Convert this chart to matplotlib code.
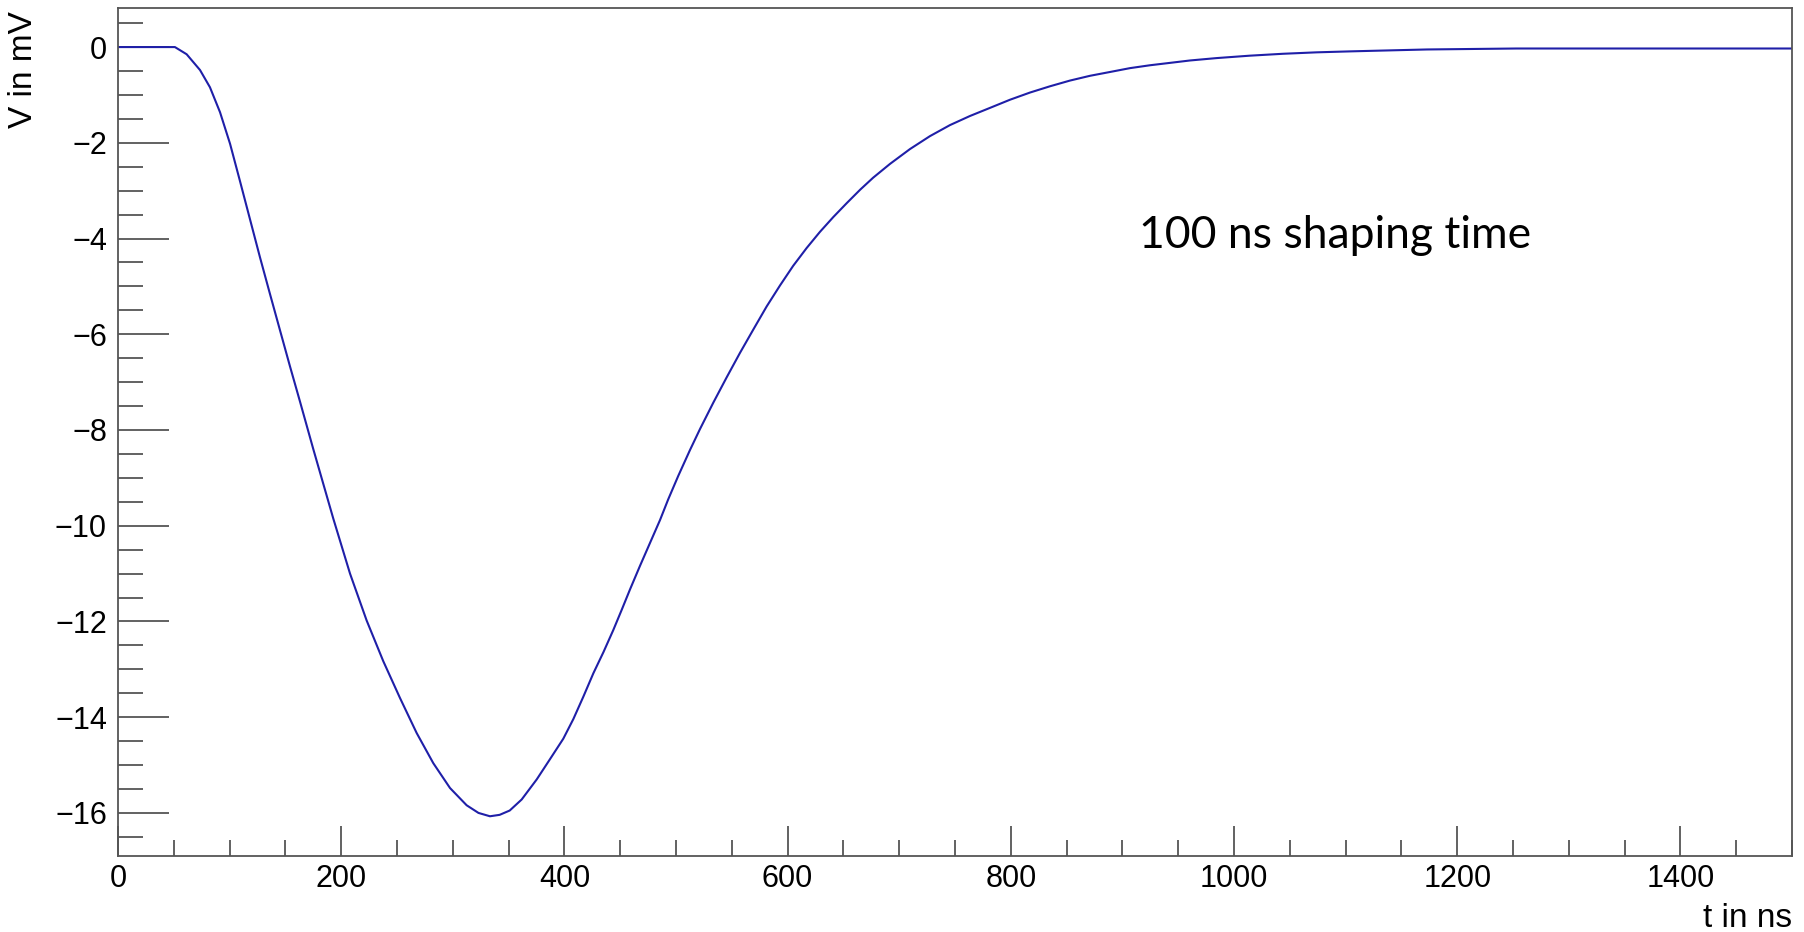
import matplotlib
matplotlib.use("Agg")
import matplotlib.pyplot as plt
from matplotlib.ticker import MultipleLocator

# === DATOS ===
t_ns = [0, 51, 61.5, 73.5, 82.4, 91.4, 100.4, 109.3, 118.3, 127.2,
        136.2, 145.2, 154.1, 163, 175, 192.9, 207.9, 222.8, 237.7, 252.7,
        267.6, 282.5, 297.5, 312.4, 323, 333.3, 342, 351, 361.7, 375.2,
        387, 399, 408, 417, 426, 435, 443.8, 451.3, 458.8, 467.7,
        476.7, 485.7, 493, 502, 512.5, 521.5, 533.4, 545.4, 557.3, 569.3,
        581.2, 593.2, 605, 617, 629, 641, 653, 665, 676.6, 691.8,
        709.7, 727.6, 745.5, 763.4, 781.4, 799.3, 817.2, 835, 853, 871,
        889, 906.8, 924.7, 942.7, 960.6, 984.5, 1014, 1044, 1074, 1104,
        1126, 1173, 1253, 1500]
v_mv = [0, 0, -0.15, -0.48, -0.84, -1.36, -2.02, -2.8, -3.6, -4.39,
        -5.16, -5.92, -6.67, -7.4, -8.4, -9.85, -11.0, -11.98, -12.83, -13.6,
        -14.33, -14.96, -15.48, -15.84, -16.0, -16.07, -16.04, -15.95, -15.72, -15.3,
        -14.88, -14.45, -14.04, -13.57, -13.08, -12.64, -12.18, -11.76, -11.33, -10.84,
        -10.36, -9.88, -9.45, -8.96, -8.42, -7.98, -7.43, -6.9, -6.39, -5.9,
        -5.42, -4.98, -4.57, -4.2, -3.86, -3.55, -3.26, -2.98, -2.73, -2.44,
        -2.13, -1.86, -1.63, -1.44, -1.27, -1.10, -0.95, -0.82, -0.70, -0.60,
        -0.52, -0.44, -0.38, -0.33, -0.28, -0.23, -0.18, -0.14, -0.11, -0.09,
        -0.077, -0.05, -0.03, -0.03]

etiqueta = "100 ns shaping time"

# === ESTILO ===
plt.rcParams['font.family'] = ['Liberation Sans', 'DejaVu Sans']
gris = '#555555'

fig = plt.figure(figsize=(18.04, 9.32), dpi=100)
ax = fig.add_axes([118 / 1804, 76 / 932, 1674 / 1804, 847.7 / 932])

ax.plot(t_ns, v_mv, color='#1f1fa8', linewidth=1.5)

ax.set_xlim(0, 1500)
ax.set_ylim(-16.9, 0.81)

ax.xaxis.set_major_locator(MultipleLocator(200))
ax.xaxis.set_minor_locator(MultipleLocator(50))
ax.yaxis.set_major_locator(MultipleLocator(2))
ax.yaxis.set_minor_locator(MultipleLocator(0.5))

ax.tick_params(axis='both', which='both', direction='in', color=gris,
               width=1.3, labelsize=22)
ax.tick_params(axis='x', which='major', length=21.6, pad=6)
ax.tick_params(axis='x', which='minor', length=11.5)
ax.tick_params(axis='y', which='major', length=36.7, pad=8)
ax.tick_params(axis='y', which='minor', length=18)

for lado in ax.spines.values():
    lado.set_color(gris)
    lado.set_linewidth(1.3)

ax.set_xlabel("t in ns", fontsize=24, loc='right')
ax.xaxis.set_label_coords(1.0, -0.056)
ax.set_ylabel("V in mV", fontsize=24, loc='top')
ax.yaxis.set_label_coords(-0.047, 0.997)

ax.text(915, -4.19, etiqueta, fontsize=32, family=['Lato', 'DejaVu Sans'],
        ha='left', va='baseline')

fig.savefig("out.png", dpi=100)
